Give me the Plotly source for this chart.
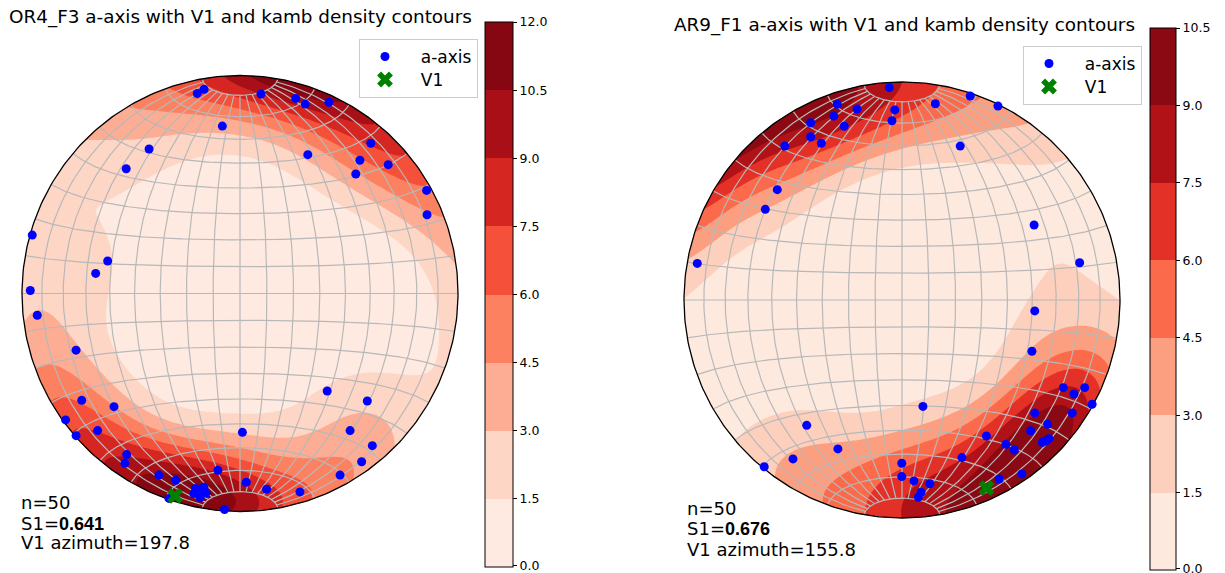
import numpy as np
import plotly.graph_objects as go

W, H = 1225, 573

# ---------------- data (equal-area projected coords, unit primitive circle) ----------------
# Left panel: OR4_F3 a-axis
or4_x = [-0.196, -0.165, 0.096, 0.256, 0.299, 0.408, -0.081, -0.417, -0.522, 0.311,
         0.600, 0.550, 0.531, 0.680, 0.856, 0.858, -0.953, -0.607, -0.662, -0.962,
         -0.930, -0.752, 0.400, 0.584, -0.726, -0.578, -0.800, -0.653, -0.752, 0.011,
         0.505, 0.607, 0.558, -0.520, -0.528, -0.101, 0.459, -0.372, -0.295, 0.029,
         0.122, 0.275, -0.203, -0.166, -0.212, -0.183, -0.071, -0.326, -0.190, -0.156]
or4_y = [0.918, 0.937, 0.915, 0.895, 0.869, 0.877, 0.768, 0.663, 0.572, 0.637,
         0.689, 0.611, 0.548, 0.591, 0.473, 0.361, 0.268, 0.149, 0.092, 0.014,
         -0.100, -0.260, -0.447, -0.493, -0.490, -0.519, -0.580, -0.629, -0.652, -0.637,
         -0.629, -0.698, -0.772, -0.739, -0.779, -0.811, -0.833, -0.833, -0.857, -0.866,
         -0.898, -0.910, -0.894, -0.889, -0.918, -0.937, -0.991, -0.940, -0.906, -0.915]
or4_v1_trend, or4_v1_plunge = 197.8, 2.8
or4_s1 = "0.641"
or4_levels = [0.0, 1.5, 3.0, 4.5, 6.0, 7.5, 9.0, 10.5, 12.0]

# Right panel: AR9_F1 a-axis
ar9_x = [-0.058, -0.297, -0.206, -0.033, 0.153, 0.313, 0.440, -0.313, -0.419, -0.265,
         -0.046, -0.419, -0.370, -0.538, 0.267, -0.572, -0.627, 0.606, 0.815, -0.939,
         0.609, 0.596, 0.740, 0.789, 0.838, 0.872, 0.096, 0.609, 0.781, -0.437,
         0.668, 0.590, 0.387, 0.477, 0.515, 0.644, 0.674, 0.659, -0.294, -0.500,
         -0.632, 0.275, -0.001, -0.001, 0.055, 0.128, 0.550, 0.446, 0.087, 0.075]
ar9_y = [0.974, 0.898, 0.876, 0.872, 0.900, 0.936, 0.890, 0.844, 0.813, 0.797,
         0.822, 0.749, 0.719, 0.706, 0.706, 0.506, 0.416, 0.344, 0.171, 0.168,
         -0.050, -0.235, -0.402, -0.431, -0.402, -0.478, -0.488, -0.518, -0.518, -0.575,
         -0.570, -0.600, -0.624, -0.662, -0.688, -0.653, -0.636, -0.647, -0.683, -0.729,
         -0.765, -0.723, -0.749, -0.810, -0.830, -0.843, -0.798, -0.821, -0.882, -0.905]
ar9_v1_trend, ar9_v1_plunge = 155.8, 6.0
ar9_s1 = "0.676"
ar9_levels = [0.0, 1.5, 3.0, 4.5, 6.0, 7.5, 9.0, 10.5]

# ---------------- helpers ----------------
REDS = [(1.0, 0.9608, 0.9412), (0.9961, 0.8784, 0.8235), (0.9882, 0.7333, 0.6314),
        (0.9882, 0.5725, 0.4471), (0.9843, 0.4157, 0.2902), (0.9373, 0.2314, 0.1725),
        (0.7961, 0.0941, 0.1137), (0.6471, 0.0588, 0.0824), (0.4039, 0.0, 0.0510)]


def reds(v):
    v = min(max(v, 0.0), 1.0)
    pos = v * 8
    i = min(int(pos), 7)
    t = pos - i
    c = [REDS[i][k] * (1 - t) + REDS[i + 1][k] * t for k in range(3)]
    return 'rgb(%d,%d,%d)' % tuple(int(round(255 * a)) for a in c)


def band_scale(nb):
    cols = [reds((k + 0.5) / nb) for k in range(nb)]
    nc = nb + 1
    sc = [[0.0, cols[0]]]
    for k in range(nb):
        sc.append([(k + 1) / nc, cols[k]])
    sc.append([1.0, cols[-1]])
    return sc


def to_xyz(x, y):
    x = np.asarray(x, float)
    y = np.asarray(y, float)
    rr = np.hypot(x, y)
    r = np.clip(rr, 0, 1)
    c = 2 * np.arcsin(r / np.sqrt(2))
    safe = np.where(rr > 0, rr, 1)
    ux = np.where(rr > 0, x / safe, 0)
    uy = np.where(rr > 0, y / safe, 0)
    return np.stack([np.sin(c) * ux, np.sin(c) * uy, np.cos(c)], -1)


def exp_kamb(px, py, gx, gy, sigma=3.0):
    P = to_xyz(px, py)
    G = to_xyz(gx.ravel(), gy.ravel())
    n = float(len(px))
    f = 2 * (1.0 + n / sigma ** 2)
    units = np.sqrt(n * (f / 2.0 - 1) / f ** 2)
    cosd = np.abs(G @ P.T)
    tot = (np.exp(f * (cosd - 1)).sum(1) - 0.5) / units
    tot[tot < 0] = 0
    return tot.reshape(gx.shape)


def line_proj(trend, plunge):
    t = np.radians(trend)
    c = np.radians(90 - plunge)
    r = np.sqrt(2) * np.sin(c / 2)
    return [r * np.sin(t)], [r * np.cos(t)]


def lam(lon, lat):
    lon = np.radians(lon)
    lat = np.radians(lat)
    k = np.sqrt(2 / (1 + np.cos(lat) * np.cos(lon)))
    return k * np.cos(lat) * np.sin(lon) / np.sqrt(2), k * np.sin(lat) / np.sqrt(2)


def net_lines():
    xs, ys = [], []
    for lon in range(-80, 81, 10):
        lat = np.linspace(-80, 80, 161)
        x, y = lam(np.full_like(lat, lon), lat)
        xs += list(x) + [None]
        ys += list(y) + [None]
    for lat in range(-80, 81, 10):
        lon = np.linspace(-90, 90, 181)
        x, y = lam(lon, np.full_like(lon, lat))
        xs += list(x) + [None]
        ys += list(y) + [None]
    return xs, ys


th = np.linspace(0, 2 * np.pi, 361)
circ_x = list(np.cos(th))
circ_y = list(np.sin(th))
# mask: square CCW, then circle CW
S = 1.3
mask_x = [S, S, -S, -S, S, S] + list(np.cos(-th)) + [S]
mask_y = [0, S, S, -S, -S, 0] + list(np.sin(-th)) + [0]

g = np.linspace(-1, 1, 261)
GX, GY = np.meshgrid(g, g)
gl_x, gl_y = net_lines()

LEGTXT = '<span style="font-size:17px">\u00a0\u00a0%s</span>'

fig = go.Figure()

panels = [
    dict(px=or4_x, py=or4_y, tr=or4_v1_trend, pl=or4_v1_plunge, lev=or4_levels,
         xa='x', ya='y', legend='legend', cbx=485, cbtop=22, cbbot=567, cbth=28),
    dict(px=ar9_x, py=ar9_y, tr=ar9_v1_trend, pl=ar9_v1_plunge, lev=ar9_levels,
         xa='x2', ya='y2', legend='legend2', cbx=1150, cbtop=28, cbbot=570, cbth=26),
]

for p in panels:
    z = exp_kamb(p['px'], p['py'], GX, GY)
    lev = p['lev']
    z = np.minimum(z, lev[-1] - 1e-3)
    nb = len(lev) - 1
    tv = [lev[0] + 0.03] + lev[1:]
    fig.add_trace(go.Contour(
        x=g, y=g, z=z, xaxis=p['xa'], yaxis=p['ya'],
        autocontour=False,
        contours=dict(start=lev[0], end=lev[-1], size=lev[1] - lev[0],
                      coloring='fill', showlines=False),
        line=dict(width=0, smoothing=1),
        colorscale=band_scale(nb), zmin=lev[0], zmax=lev[-1],
        colorbar=dict(x=p['cbx'] / W, xanchor='left', xpad=0,
                      y=1 - p['cbtop'] / H, yanchor='top', ypad=0,
                      len=p['cbbot'] - p['cbtop'], lenmode='pixels',
                      thickness=p['cbth'], thicknessmode='pixels',
                      outlinewidth=1, outlinecolor='black',
                      tickvals=tv, ticktext=['%.1f' % v for v in lev],
                      ticklabeloverflow='allow',
                      ticks='outside', ticklen=4, tickwidth=1, tickcolor='black',
                      tickfont=dict(family='DejaVu Sans', size=12.5, color='black')),
        hoverinfo='skip', showlegend=False))
    fig.add_trace(go.Scatter(x=mask_x, y=mask_y, xaxis=p['xa'], yaxis=p['ya'],
                             mode='none', fill='toself', fillcolor='white',
                             hoverinfo='skip', showlegend=False))
    fig.add_trace(go.Scatter(x=gl_x, y=gl_y, xaxis=p['xa'], yaxis=p['ya'],
                             mode='lines', line=dict(color='#b8b8b8', width=1.2),
                             hoverinfo='skip', showlegend=False))
    fig.add_trace(go.Scatter(x=circ_x, y=circ_y, xaxis=p['xa'], yaxis=p['ya'],
                             mode='lines', line=dict(color='black', width=1.3),
                             hoverinfo='skip', showlegend=False))
    fig.add_trace(go.Scatter(x=p['px'], y=p['py'], xaxis=p['xa'], yaxis=p['ya'],
                             mode='markers', name=LEGTXT % 'a-axis', legend=p['legend'],
                             cliponaxis=False,
                             marker=dict(color='blue', size=9, line=dict(width=0))))
    vx, vy = line_proj(p['tr'], p['pl'])
    fig.add_trace(go.Scatter(x=vx, y=vy, xaxis=p['xa'], yaxis=p['ya'],
                             mode='markers', name=LEGTXT % 'V1', legend=p['legend'],
                             cliponaxis=False,
                             marker=dict(color='green', size=14, symbol='x',
                                         line=dict(width=0))))

PADF = 1.04  # axis range slightly beyond the primitive circle
R = 218.0


def dom_x(cx):
    return [(cx - R * PADF) / W, (cx + R * PADF) / W]


def dom_y(cy):
    return [(H - cy - R * PADF) / H, (H - cy + R * PADF) / H]


ax = dict(range=[-PADF, PADF], visible=False, showgrid=False, zeroline=False, fixedrange=True)
leg = dict(bgcolor='white', bordercolor='#cccccc', borderwidth=1, itemwidth=40,
           tracegroupgap=0, xanchor='left', yanchor='top',
           font=dict(family='DejaVu Sans', size=15.4, color='black'))

fig.update_layout(
    width=W, height=H, margin=dict(l=0, r=0, t=0, b=0),
    paper_bgcolor='white', plot_bgcolor='white',
    xaxis=dict(domain=dom_x(240), **ax),
    yaxis=dict(domain=dom_y(293.5), **ax),
    xaxis2=dict(domain=dom_x(902), **ax),
    yaxis2=dict(domain=dom_y(300), **ax),
    legend=dict(x=359 / W, y=1 - 39 / H, **leg),
    legend2=dict(x=1023 / W, y=1 - 46 / H, **leg),
)

F = dict(family='DejaVu Sans', size=18, color='black')
FT = dict(family='DejaVu Sans', size=18.4, color='black')
B = 'font-family:Liberation Sans;font-weight:bold'
texts = [
    ('OR4_F3 a-axis with V1 and kamb density contours', 240, 17, 'center', FT),
    ('AR9_F1 a-axis with V1 and kamb density contours', 904, 25, 'center', FT),
    ('n=50', 19, 503, 'left', F),
    ('S1=<span style="%s">%s</span>' % (B, or4_s1), 19, 523, 'left', F),
    ('V1 azimuth=%.1f' % or4_v1_trend, 19, 542, 'left', F),
    ('n=50', 685, 508, 'left', F),
    ('S1=<span style="%s">%s</span>' % (B, ar9_s1), 685, 528, 'left', F),
    ('V1 azimuth=%.1f' % ar9_v1_trend, 685, 549, 'left', F),
]
for t, x, y, anc, fnt in texts:
    fig.add_annotation(text=t, x=x / W, y=1 - y / H, xref='paper', yref='paper',
                       xanchor=anc, yanchor='middle', showarrow=False, font=fnt)

fig.write_html("out.html")
